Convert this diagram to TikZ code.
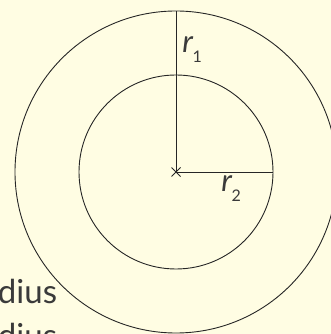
\documentclass[tikz,border=0pt]{standalone}
\usepackage{fontspec}
\setmainfont{Lato}
\usetikzlibrary{positioning}
\definecolor{PaperCream}{HTML}{FFFDE3}
\definecolor{InkDark}{HTML}{262626}
\definecolor{TextGrey}{HTML}{3A3A3A}
\newcommand{\radlbl}[1]{\textit{r}\kern-0.03em\raisebox{-0.3em}{\fontsize{16}{18}\selectfont #1}}

\begin{document}
\begin{tikzpicture}[x=1pt,y=1pt,line width=0.9pt,InkDark,
  lbl/.style={inner sep=0pt,text=TextGrey,font=\fontsize{31}{36}\selectfont},
  word/.style={inner sep=0pt,text=TextGrey,font=\fontsize{33}{40}\selectfont}]
  \fill[PaperCream] (0,0) rectangle (331,334);
  \useasboundingbox (0,0) rectangle (331,334);
  \coordinate (o) at (176,162);
  \coordinate (top) at (176,323);
  \coordinate (rgt) at (273,162);
  \draw (o) circle[radius=161];
  \draw (o) circle[radius=97];
  \draw (o) -- (top);
  \draw (o) -- (rgt);
  \draw (o) +(-4.5,-4.5) -- +(4.5,4.5) +(-4.5,4.5) -- +(4.5,-4.5);
  \node[lbl,anchor=base west] (rone) at (182,281) {\radlbl{1}};
  \node[lbl,anchor=base west] (rtwo) at (221,142) {\radlbl{2}};
  \node[word,anchor=base west] (wone) at (-2.5,30) {dius};
  \node[word,anchor=base west] (wtwo) at (-2.5,-13) {dius};
\end{tikzpicture}
\end{document}
